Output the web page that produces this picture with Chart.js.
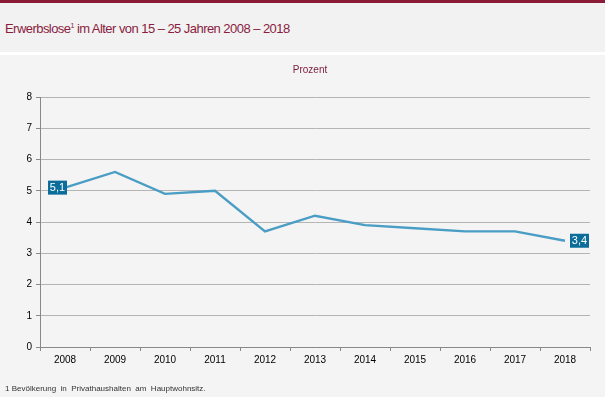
<!DOCTYPE html>
<html>
<head>
<meta charset="utf-8">
<script src="https://cdn.jsdelivr.net/npm/chart.js@4/dist/chart.umd.min.js"></script>
<style>
  body { margin: 0; width: 605px; height: 397px; overflow: hidden; background: #f4f4f4; font-family: "Liberation Sans", Arial, sans-serif; }
  #topbar { position: absolute; left: 0; top: 0; width: 605px; height: 3px; background: #8a1c38; }
  #head { position: absolute; left: 0; top: 3px; width: 605px; height: 49px; background: #f2f2f2; }
  #title { position: absolute; left: 5px; top: 18px; font-size: 13px; color: #8a1c3e; letter-spacing: -0.55px; white-space: nowrap; }
  #title sup { font-size: 7px; vertical-align: 5px; }
  #gap { position: absolute; left: 0; top: 52px; width: 605px; height: 3px; background: #ffffff; }
  #unit { position: absolute; left: 0; top: 64px; width: 620px; text-align: center; font-size: 10px; color: #7a1a3a; }
  #wrap { position: absolute; left: 0; top: 55px; width: 605px; height: 342px; }
  #note { position: absolute; left: 5px; top: 384px; font-size: 8px; color: #333; white-space: nowrap; }
</style>
</head>
<body>
<div id="topbar"></div>
<div id="head"><div id="title">Erwerbslose<sup>1</sup> im Alter von 15 – 25 Jahren 2008 – 2018</div></div>
<div id="gap"></div>
<div id="wrap"><canvas id="chart"></canvas></div>
<div id="unit">Prozent</div>
<div id="note">1 Bevölkerung&nbsp; in&nbsp; Privathaushalten&nbsp; am&nbsp; Hauptwohnsitz.</div>
<script>
// Erwerbslose 15-25 Jahre, Anteil in Prozent
const years = ['2008', '2009', '2010', '2011', '2012', '2013', '2014', '2015', '2016', '2017', '2018'];
const quote = [5.1, 5.6, 4.9, 5.0, 3.7, 4.2, 3.9, 3.8, 3.7, 3.7, 3.4];
const yTicks = [0, 1, 2, 3, 4, 5, 6, 7, 8];

const lineColor = '#4a9dc4';
const boxColor = '#0c6d9a';

// value boxes at first and last point
const endLabels = {
	id: 'endLabels',
	afterDatasetsDraw(chart) {
		const ctx = chart.ctx;
		const pts = chart.getDatasetMeta(0).data;
		const last = pts.length - 1;
		ctx.save();
		ctx.font = '11px "Liberation Sans", Arial, sans-serif';
		ctx.textAlign = 'center';
		ctx.textBaseline = 'middle';
		[[0, 'left'], [last, 'right']].forEach(([i, side]) => {
			const p = pts[i];
			const txt = quote[i].toFixed(1).replace('.', ',');
			const w = 19, h = 14;
			const x = side === 'left' ? p.x - w + 2 : p.x + 5;
			const y = p.y - h / 2;
			ctx.fillStyle = boxColor;
			ctx.fillRect(x, y, w, h);
			ctx.fillStyle = '#ffffff';
			ctx.fillText(txt, x + w / 2, y + h / 2 + 0.5);
		});
		ctx.restore();
	}
};

new Chart(document.getElementById('chart'), {
	type: 'line',
	data: {
		labels: years,
		datasets: [{
			data: quote,
			borderColor: lineColor,
			borderWidth: 2.3,
			pointRadius: 0,
			tension: 0,
			fill: false
		}]
	},
	options: {
		responsive: true,
		maintainAspectRatio: false,
		animation: false,
		layout: { padding: { top: 42, right: 15, bottom: 30, left: 0 } },
		plugins: { legend: { display: false }, tooltip: { enabled: false } },
		scales: {
			x: {
				offset: true,
				grid: { offset: true, drawOnChartArea: false, color: '#888', tickLength: 4 },
				border: { color: '#888', width: 1 },
				ticks: { color: '#000', font: { size: 10, family: '"Liberation Sans", Arial, sans-serif' }, padding: 3, maxRotation: 0 },
				afterFit: s => { s.height = 20; }
			},
			y: {
				min: 0,
				max: 8,
				afterBuildTicks: s => { s.ticks = yTicks.map(v => ({ value: v })); },
				grid: { color: '#b4b4b4', tickLength: 4, tickColor: '#888' },
				border: { color: '#888', width: 1 },
				ticks: { color: '#000', font: { size: 10, family: '"Liberation Sans", Arial, sans-serif' }, padding: 4 },
				afterFit: s => { s.width = 40; }
			}
		}
	},
	plugins: [endLabels]
});
</script>
</body>
</html>
